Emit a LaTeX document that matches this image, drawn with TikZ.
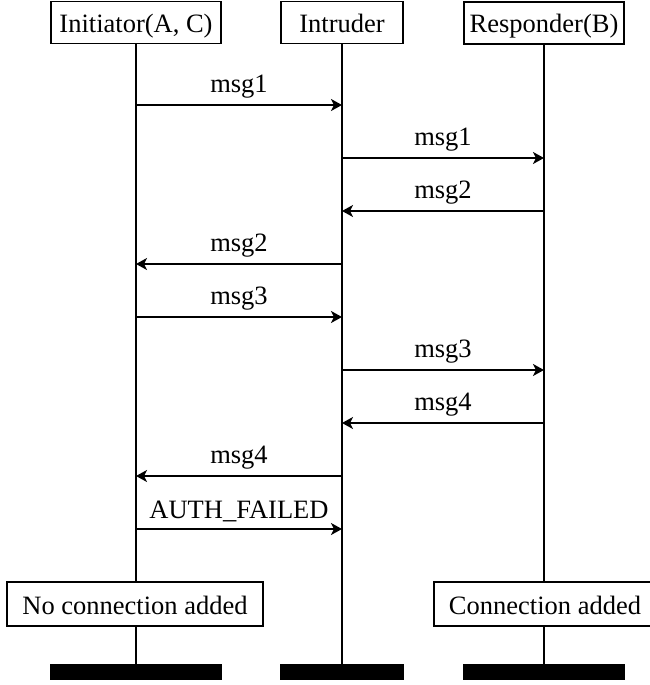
\documentclass[tikz,border=0pt]{standalone}
\usepackage{fontspec}
\setmainfont{Liberation Serif}
\usetikzlibrary{arrows.meta,calc}
\begin{document}
\begin{tikzpicture}[x=1pt,y=-1pt,
  every node/.style={font=\fontsize{26.5}{30}\selectfont},
  inst/.style={draw,line width=1.2pt,fill=white,minimum height=42pt,text height=20pt,text depth=0pt,inner xsep=0pt},
  life/.style={line width=2.3pt},
  msgarrow/.style={line width=1.6pt,-{Stealth[length=11pt,width=12pt,inset=3pt]}},
  msglabel/.style={above=2.5pt,midway},
  endbar/.style={fill=black}]
\useasboundingbox (0,0) rectangle (649,685);
% instances
\node[inst,minimum width=170pt] (init) at (136,22.5) {Initiator(A, C)};
\node[inst,minimum width=122pt] (intr) at (342,22.5) {Intruder};
\node[inst,minimum width=160pt] (resp) at (544,23) {Responder(B)};
% bar levels
\coordinate (bt) at (0,664);
\coordinate (bb) at (0,680);
% lifelines
\draw[life] (init.south) -- (init.south |- bt);
\draw[life] (intr.south) -- (intr.south |- bt);
\draw[life] (resp.south) -- (resp.south |- bt);
% end bars
\fill[endbar] (init.west |- bt) rectangle (init.east |- bb);
\fill[endbar] (intr.west |- bt) rectangle (intr.east |- bb);
\fill[endbar] (resp.west |- bt) rectangle (resp.east |- bb);
% message rows
\coordinate (r1) at (0,105);
\coordinate (r2) at (0,158);
\coordinate (r3) at (0,211);
\coordinate (r4) at (0,264);
\coordinate (r5) at (0,317);
\coordinate (r6) at (0,370);
\coordinate (r7) at (0,423);
\coordinate (r8) at (0,476);
\coordinate (r9) at (0,529);
\draw[msgarrow] (init.south |- r1) -- (intr.south |- r1) node[msglabel] {msg1};
\draw[msgarrow] (intr.south |- r2) -- (resp.south |- r2) node[msglabel] {msg1};
\draw[msgarrow] (resp.south |- r3) -- (intr.south |- r3) node[msglabel] {msg2};
\draw[msgarrow] (intr.south |- r4) -- (init.south |- r4) node[msglabel] {msg2};
\draw[msgarrow] (init.south |- r5) -- (intr.south |- r5) node[msglabel] {msg3};
\draw[msgarrow] (intr.south |- r6) -- (resp.south |- r6) node[msglabel] {msg3};
\draw[msgarrow] (resp.south |- r7) -- (intr.south |- r7) node[msglabel] {msg4};
\draw[msgarrow] (intr.south |- r8) -- (init.south |- r8) node[msglabel] {msg4};
\draw[msgarrow] (init.south |- r9) -- (intr.south |- r9) node[msglabel] {AUTH\_FAILED};
% results
\node[inst,minimum width=256pt,minimum height=44pt] (nca) at (135,604) {No connection added};
\node[inst,minimum width=222pt,minimum height=44pt] (ca) at (545,604) {Connection added};
\end{tikzpicture}
\end{document}
